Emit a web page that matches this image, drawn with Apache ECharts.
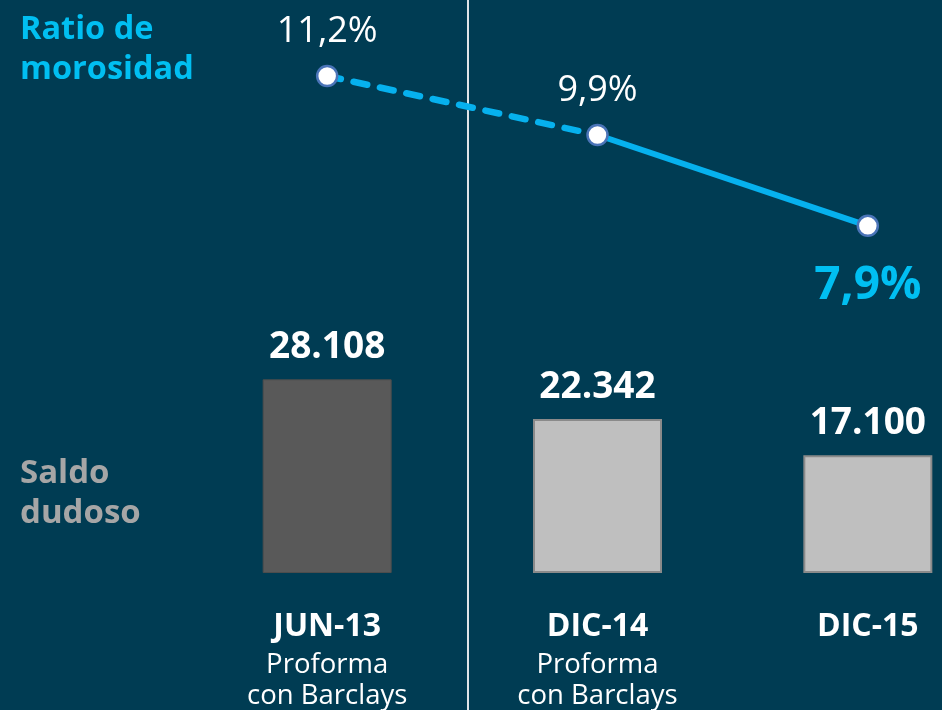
<!DOCTYPE html>
<html>
<head>
<meta charset="utf-8">
<script src="https://cdn.jsdelivr.net/npm/echarts@6/dist/echarts.min.js"></script>
<style>
  html, body { margin: 0; padding: 0; background: #003c53; }
  #chart { width: 942px; height: 710px; }
</style>
</head>
<body>
<div id="chart"></div>
<script>
// Periods and their sub-captions
const categories = ['JUN-13', 'DIC-14', 'DIC-15'];
const subLabels = ['Proforma\ncon Barclays', 'Proforma\ncon Barclays', ''];

// Doubtful balance (bars) and NPL ratio (%, line)
const saldoDudoso = [28108, 22342, 17100];
const ratioMorosidad = [11.2, 9.9, 7.9];

const FONT = '"Open Sans", "Noto Sans", sans-serif';
const CYAN = '#06b1ee';

function fmtThousands(v) {
  return String(v).replace(/\B(?=(\d{3})+(?!\d))/g, '.');
}
function fmtPct(v) {
  return v.toFixed(1).replace('.', ',') + '%';
}

// Dashed segment for the proforma span, solid segment afterwards
const dashedPart = ratioMorosidad.map((v, i) => (i <= 1 ? v : '-'));
const solidPart = ratioMorosidad.map((v, i) => (i >= 1 ? v : '-'));

const chart = echarts.init(document.getElementById('chart'));

chart.setOption({
  backgroundColor: '#003c53',
  animation: false,
  // the last band runs past the right edge of the canvas
  grid: { left: 192, width: 811, top: 0, bottom: 137, containLabel: false, outerBoundsMode: 'none' },
  xAxis: {
    type: 'category',
    data: categories,
    axisLine: { show: false },
    axisTick: { show: false },
    axisLabel: {
      margin: 30,
      interval: 0,
      formatter: (value, idx) => {
        const sub = subLabels[idx];
        return '{main|' + value + '}' + (sub ? '\n' + sub.split('\n').map(s => '{sub|' + s + '}').join('\n') : '');
      },
      rich: {
        main: { color: '#ffffff', fontFamily: FONT, fontWeight: 'bold', fontSize: 32, lineHeight: 47 },
        sub: { color: '#ffffff', fontFamily: FONT, fontSize: 27.5, lineHeight: 31 }
      },
      verticalAlign: 'top'
    }
  },
  yAxis: [
    { type: 'value', min: 0, max: 83160, show: false, splitLine: { show: false } },
    { type: 'value', min: 0.253, max: 12.874, show: false, splitLine: { show: false } }
  ],
  graphic: [
    {
      type: 'line',
      shape: { x1: 468, y1: 0, x2: 468, y2: 710 },
      style: { stroke: '#dfe4e7', lineWidth: 2 },
      z: 0
    },
    {
      type: 'text', left: 20, top: 10,
      style: {
        text: 'Ratio de\nmorosidad', fill: '#00bff2',
        font: 'bold 32.5px ' + FONT, lineHeight: 40
      }
    },
    {
      type: 'text', left: 20, top: 454,
      style: {
        text: 'Saldo\ndudoso', fill: '#a6a6a6',
        font: 'bold 33px ' + FONT, lineHeight: 40
      }
    }
  ],
  series: [
    {
      type: 'bar',
      yAxisIndex: 0,
      barWidth: 129,
      data: saldoDudoso.map((v, i) => ({
        value: v,
        itemStyle: i === 0
          ? { color: '#595959', borderColor: '#4d4d4d', borderWidth: 1 }
          : { color: '#bfbfbf', borderColor: '#8a8a8a', borderWidth: 2 }
      })),
      label: {
        show: true,
        position: 'top',
        distance: 13,
        color: '#ffffff',
        fontFamily: FONT,
        fontWeight: 'bold',
        fontSize: 37,
        formatter: (p) => fmtThousands(p.value)
      },
      z: 2
    },
    {
      type: 'line',
      yAxisIndex: 1,
      data: dashedPart,
      symbol: 'none',
      lineStyle: { color: CYAN, width: 6.5, type: [14, 13], cap: 'round' },
      z: 3
    },
    {
      type: 'line',
      yAxisIndex: 1,
      data: solidPart,
      symbol: 'none',
      lineStyle: { color: CYAN, width: 6 },
      z: 3
    },
    {
      // markers and value labels
      type: 'line',
      yAxisIndex: 1,
      data: ratioMorosidad.map((v, i) => ({
        value: v,
        label: i === ratioMorosidad.length - 1
          ? { position: 'bottom', distance: 26, color: '#00bff2', fontWeight: 'bold', fontSize: 46 }
          : {}
      })),
      lineStyle: { opacity: 0 },
      symbol: 'circle',
      symbolSize: 20,
      itemStyle: { color: '#ffffff', borderColor: '#4a74b8', borderWidth: 2.5 },
      label: {
        show: true,
        position: 'top',
        distance: 15,
        color: '#ffffff',
        fontFamily: FONT,
        fontSize: 36,
        formatter: (p) => fmtPct(p.value)
      },
      z: 4
    }
  ]
});
</script>
</body>
</html>
